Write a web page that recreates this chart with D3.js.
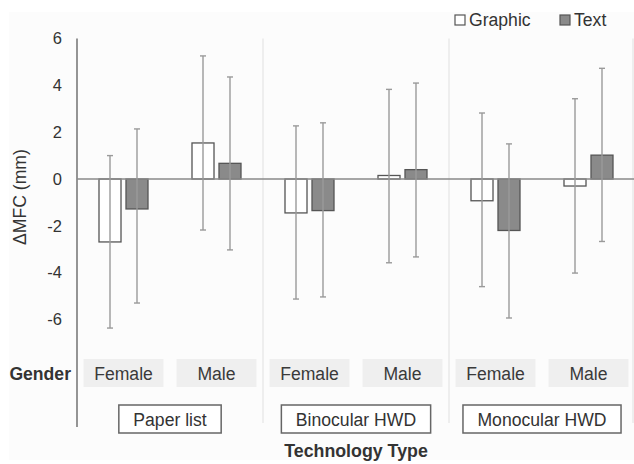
<!DOCTYPE html>
<html>
<head>
<meta charset="utf-8">
<script src="https://cdn.jsdelivr.net/npm/d3@7"></script>
<style>
  html, body { margin: 0; padding: 0; background: #ffffff; }
  svg { display: block; font-family: "Liberation Sans", Arial, Helvetica, sans-serif; }
</style>
</head>
<body>
<svg id="chart" width="634" height="464"></svg>
<script>
// ---- data ----
const technologies = ["Paper list", "Binocular HWD", "Monocular HWD"];
const genders = ["Female", "Male"];
const series = ["Graphic", "Text"];
// order: Paper F, Paper M, Binocular F, Binocular M, Monocular F, Monocular M
const graphicMean  = [-2.69, 1.54, -1.45, 0.15, -0.93, -0.30];
const graphicUpper = [ 1.00, 5.26,  2.27, 3.83,  2.82,  3.43];
const graphicLower = [-6.37, -2.18, -5.13, -3.58, -4.60, -4.02];
const textMean     = [-1.28, 0.67, -1.35, 0.40, -2.20, 1.02];
const textUpper    = [ 2.14, 4.36,  2.40, 4.10,  1.50, 4.73];
const textLower    = [-5.30, -3.03, -5.04, -3.33, -5.94, -2.67];
const yTicks = [-6, -4, -2, 0, 2, 4, 6];

// ---- build rows ----
const groups = [];
technologies.forEach((t, ti) => genders.forEach((g, gi) => groups.push({ key: t + "|" + g, tech: t, gender: g, idx: ti * 2 + gi })));
const seriesData = {
  Graphic: { mean: graphicMean, up: graphicUpper, lo: graphicLower, fill: "#ffffff" },
  Text:    { mean: textMean,    up: textUpper,    lo: textLower,    fill: "#8a8a8a" }
};
const rows = [];
groups.forEach(g => series.forEach(s => rows.push({ group: g, s, v: seriesData[s].mean[g.idx], up: seriesData[s].up[g.idx], lo: seriesData[s].lo[g.idx] })));

// ---- layout ----
const FS = 17.6;
const svg = d3.select("#chart");
const left = 77, right = 635;
const y = d3.scaleLinear().domain([-6, 6]).range([319.4, 38.6]);
const x = d3.scaleBand().domain(groups.map(d => d.key)).range([left, right]);
const xt = d3.scaleBand().domain(technologies).range([left, right]);
const inner = d3.scaleBand().domain(series).range([0, 49]).paddingInner(0.185);
const innerOff = (x.bandwidth() - 49) / 2;
const axisBottom = 427;

// faint background frame
svg.append("rect").attr("x", 9).attr("y", 12).attr("width", 625).attr("height", 448).attr("fill", "#fcfcfc");

// separators between technologies
svg.append("g").selectAll("line").data(technologies.slice(1).concat(["__end"])).join("line")
  .attr("x1", d => d === "__end" ? right - 2 : xt(d)).attr("x2", d => d === "__end" ? right - 2 : xt(d))
  .attr("y1", y(6)).attr("y2", 423)
  .attr("stroke", "#e4e4e4").attr("stroke-width", 1.2);

// y axis tick labels
const yAxis = d3.axisLeft(y).tickValues(yTicks).tickSize(0).tickPadding(15).tickFormat(d => String(d));
const ga = svg.append("g").attr("transform", `translate(${left},0)`).call(yAxis);
ga.select(".domain").remove();
ga.selectAll("text").attr("font-size", 16.5).attr("fill", "#333")
  .attr("font-family", "'Liberation Sans', Arial, sans-serif");

// y axis line
svg.append("line").attr("x1", left).attr("x2", left).attr("y1", y(6)).attr("y2", axisBottom)
  .attr("stroke", "#7a7a7a").attr("stroke-width", 1.6);

// bars
svg.append("g").selectAll("rect").data(rows).join("rect")
  .attr("x", d => x(d.group.key) + innerOff + inner(d.s))
  .attr("width", inner.bandwidth())
  .attr("y", d => y(Math.max(0, d.v)))
  .attr("height", d => Math.abs(y(d.v) - y(0)))
  .attr("fill", d => seriesData[d.s].fill)
  .attr("stroke", "#555").attr("stroke-width", 1.3);

// zero line
svg.append("line").attr("x1", left).attr("x2", right).attr("y1", y(0)).attr("y2", y(0))
  .attr("stroke", "#8a8a8a").attr("stroke-width", 1.5);

// error bars
const eb = svg.append("g").attr("stroke", "#9a9a9a").attr("stroke-width", 1.4);
const cx = d => x(d.group.key) + innerOff + inner(d.s) + inner.bandwidth() / 2;
eb.selectAll("line.v").data(rows).join("line").attr("class", "v")
  .attr("x1", cx).attr("x2", cx).attr("y1", d => y(d.up)).attr("y2", d => y(d.lo));
eb.selectAll("line.cu").data(rows).join("line").attr("class", "cu")
  .attr("x1", d => cx(d) - 3).attr("x2", d => cx(d) + 3).attr("y1", d => y(d.up)).attr("y2", d => y(d.up));
eb.selectAll("line.cl").data(rows).join("line").attr("class", "cl")
  .attr("x1", d => cx(d) - 3).attr("x2", d => cx(d) + 3).attr("y1", d => y(d.lo)).attr("y2", d => y(d.lo));

// gender row
const gRowTop = 359, gRowH = 28;
const gg = svg.append("g").selectAll("g").data(groups).join("g");
gg.append("rect").attr("x", d => x(d.key) + (x.bandwidth() - 80) / 2).attr("width", 80)
  .attr("y", gRowTop).attr("height", gRowH).attr("fill", "#efefef");
gg.append("text").attr("x", d => x(d.key) + x.bandwidth() / 2).attr("y", 379.5)
  .attr("text-anchor", "middle").attr("font-size", FS).attr("fill", "#3a3a3a").text(d => d.gender);
svg.append("text").attr("x", 71).attr("y", 379.5).attr("text-anchor", "end")
  .attr("font-size", FS).attr("font-weight", "bold").attr("fill", "#333").text("Gender");

// technology row
const tg = svg.append("g").selectAll("g").data(technologies).join("g");
tg.append("text").attr("x", d => xt(d) + xt.bandwidth() / 2).attr("y", 425.5)
  .attr("text-anchor", "middle").attr("font-size", FS).attr("fill", "#333").text(d => d);
tg.each(function() {
  const t = d3.select(this).select("text");
  const w = t.node().getComputedTextLength();
  const cxp = +t.attr("x");
  d3.select(this).insert("rect", "text").attr("x", cxp - w / 2 - 14.5).attr("width", w + 29)
    .attr("y", 405).attr("height", 28).attr("fill", "#fff").attr("stroke", "#666").attr("stroke-width", 1.5);
});
svg.append("text").attr("x", xt(technologies[1]) + xt.bandwidth() / 2).attr("y", 456.5)
  .attr("text-anchor", "middle").attr("font-size", 17.8).attr("font-weight", "bold").attr("fill", "#333").text("Technology Type");

// y axis title
svg.append("text").attr("transform", "translate(26,197) rotate(-90)")
  .attr("text-anchor", "middle").attr("font-size", FS).attr("fill", "#333").text("ΔMFC (mm)");

// legend
const legendX = [455, 560];
const lg = svg.append("g").selectAll("g").data(series).join("g")
  .attr("transform", (d, i) => `translate(${legendX[i]},15)`);
lg.append("rect").attr("width", 10).attr("height", 10).attr("fill", d => seriesData[d].fill)
  .attr("stroke", "#555").attr("stroke-width", 1.2);
lg.append("text").attr("x", 14).attr("y", 10.5).attr("font-size", FS).attr("fill", "#333").text(d => d);
</script>
</body>
</html>
